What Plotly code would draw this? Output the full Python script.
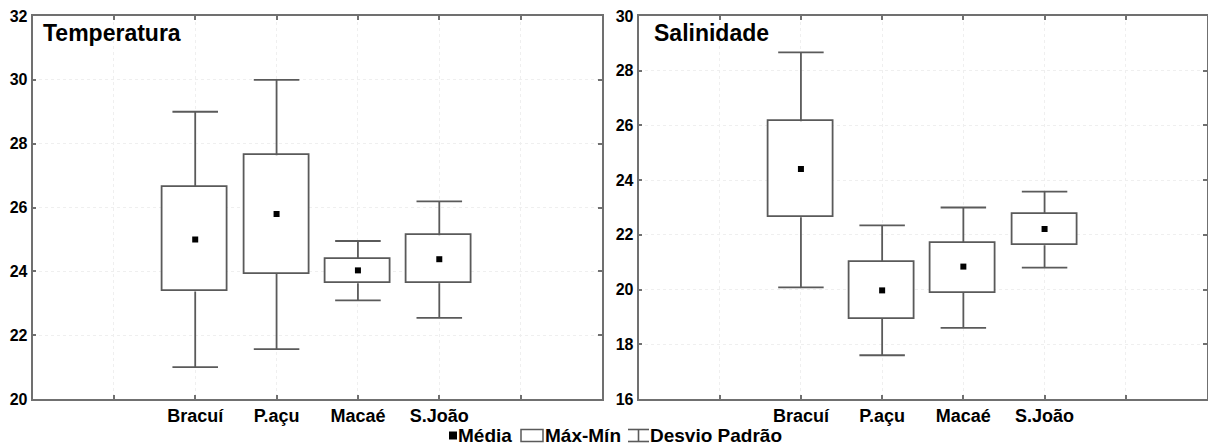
import plotly.graph_objects as go

# Estações de coleta
categorias = ["Bracuí", "P.açu", "Macaé", "S.João"]
posicoes = [2, 3, 4, 5]
ticks_x = [1, 2, 3, 4, 5, 6]

# Temperatura (°C)
temp_media = [25.0, 25.8, 24.03, 24.38]
temp_caixa_inf = [23.37, 23.92, 23.63, 23.63]
temp_caixa_sup = [26.65, 27.64, 24.39, 25.13]
temp_haste_inf = [21.0, 21.56, 23.09, 22.54]
temp_haste_sup = [29.0, 30.0, 24.95, 26.19]

# Salinidade
sal_media = [24.41, 19.97, 20.84, 22.21]
sal_caixa_inf = [22.64, 18.93, 19.88, 21.62]
sal_caixa_sup = [26.15, 21.02, 21.71, 22.76]
sal_haste_inf = [20.08, 17.60, 18.60, 20.80]
sal_haste_sup = [28.67, 22.35, 23.00, 23.58]

W, H = 1208, 448
LINHA = "#5a5a5a"
MOLDURA = "#707070"
CAP = 0.28
FONTE = "Liberation Sans"


def px_x(v):
    return v / W


def px_y(v):
    return 1 - v / H


fig = go.Figure()


def painel(xa, ya, media, cx_inf, cx_sup, h_inf, h_sup):
    fig.add_trace(go.Bar(
        x=posicoes,
        y=[s - i for s, i in zip(cx_sup, cx_inf)],
        base=cx_inf,
        width=0.8,
        marker=dict(color="white", line=dict(color=LINHA, width=1.8)),
        xaxis=xa, yaxis=ya, showlegend=False, hoverinfo="skip",
    ))
    xs, ys = [], []
    for p, lo, hi, a, b in zip(posicoes, cx_inf, cx_sup, h_inf, h_sup):
        xs += [p, p, None, p, p, None, p - CAP, p + CAP, None, p - CAP, p + CAP, None]
        ys += [hi, b, None, lo, a, None, b, b, None, a, a, None]
    fig.add_trace(go.Scatter(
        x=xs, y=ys, mode="lines",
        line=dict(color=LINHA, width=1.8),
        xaxis=xa, yaxis=ya, showlegend=False, hoverinfo="skip",
    ))
    fig.add_trace(go.Scatter(
        x=posicoes, y=media, mode="markers",
        marker=dict(symbol="square", size=6, color="black"),
        xaxis=xa, yaxis=ya, showlegend=False,
    ))


painel("x", "y", temp_media, temp_caixa_inf, temp_caixa_sup, temp_haste_inf, temp_haste_sup)
painel("x2", "y2", sal_media, sal_caixa_inf, sal_caixa_sup, sal_haste_inf, sal_haste_sup)

eixo_x = dict(
    range=[0, 7], tickvals=ticks_x, ticktext=[""] + categorias + [""],
    ticks="inside", ticklen=4, tickcolor=MOLDURA, tickwidth=1.5,
    showline=True, linecolor=MOLDURA, linewidth=1.6, mirror="ticks",
    showgrid=True, gridcolor="#efefef", griddash="dot", gridwidth=1,
    zeroline=False, fixedrange=True, automargin=False,
    tickfont=dict(family=FONTE, size=18, color="black", weight="bold"),
)
eixo_y = dict(
    dtick=2,
    ticks="inside", ticklen=4, tickcolor=MOLDURA, tickwidth=1.5,
    showline=True, linecolor=MOLDURA, linewidth=1.6, mirror="ticks",
    showgrid=True, gridcolor="#efefef", griddash="dot", gridwidth=1,
    zeroline=False, fixedrange=True, automargin=False,
    tickfont=dict(family=FONTE, size=16, color="black", weight="bold"),
    domain=[px_y(399), px_y(16)],
)

fig.update_layout(
    width=W, height=H,
    margin=dict(l=0, r=0, t=0, b=0, autoexpand=False),
    paper_bgcolor="white", plot_bgcolor="white",
    showlegend=False, bargap=0,
    xaxis=dict(eixo_x, domain=[px_x(32.5), px_x(602)], anchor="y"),
    yaxis=dict(eixo_y, range=[20, 32], anchor="x"),
    xaxis2=dict(eixo_x, domain=[px_x(638.5), px_x(1207)], anchor="y2"),
    yaxis2=dict(eixo_y, range=[16, 30], anchor="x2"),
)

# Títulos dos painéis
for texto, x0 in [("Temperatura", 41), ("Salinidade", 652)]:
    fig.add_annotation(
        text=texto, x=px_x(x0), y=px_y(18), xref="paper", yref="paper",
        xanchor="left", yanchor="top", showarrow=False,
        font=dict(family=FONTE, size=23, color="black", weight="bold"),
    )

# Legenda
fonte_leg = dict(family=FONTE, size=19, color="black", weight="bold")
fig.add_shape(type="rect", xref="paper", yref="paper",
              x0=px_x(449), x1=px_x(457), y0=px_y(439.5), y1=px_y(431.5),
              fillcolor="black", line=dict(width=0))
fig.add_shape(type="rect", xref="paper", yref="paper",
              x0=px_x(521), x1=px_x(543), y0=px_y(441.5), y1=px_y(429.5),
              fillcolor="white", line=dict(color=LINHA, width=1.5))
for xa, ya, xb, yb in [(628, 429.5, 649, 429.5), (628, 441.5, 649, 441.5), (638.5, 429.5, 638.5, 441.5)]:
    fig.add_shape(type="line", xref="paper", yref="paper",
                  x0=px_x(xa), y0=px_y(ya), x1=px_x(xb), y1=px_y(yb),
                  line=dict(color=LINHA, width=1.6))
for texto, x0 in [("Média", 456), ("Máx-Mín", 543), ("Desvio Padrão", 648)]:
    fig.add_annotation(
        text=texto, x=px_x(x0), y=px_y(435), xref="paper", yref="paper",
        xanchor="left", yanchor="middle", showarrow=False, font=fonte_leg,
    )

fig.write_html("out.html")
